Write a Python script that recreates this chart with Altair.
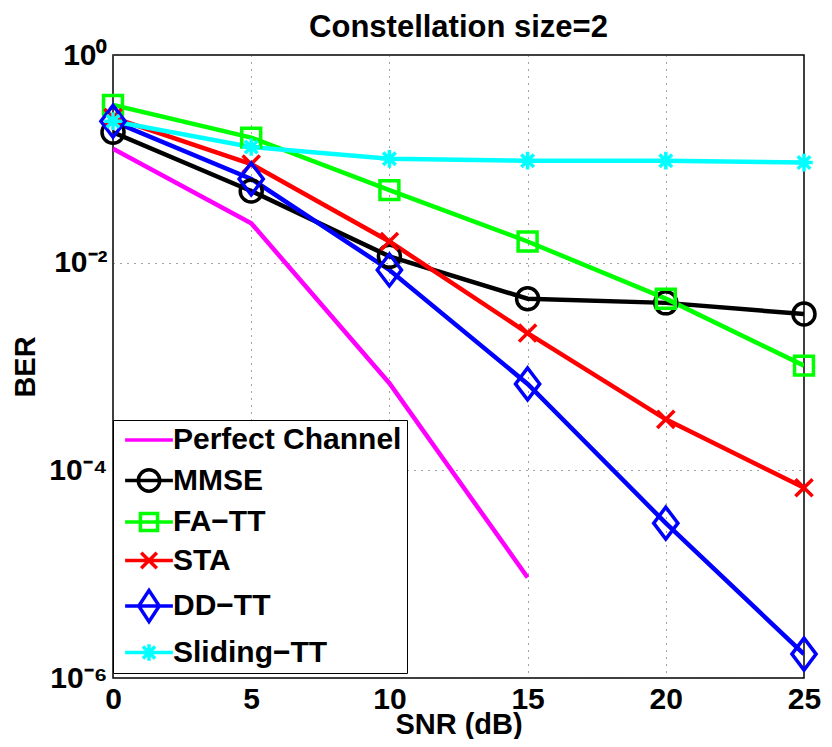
import altair as alt
import pandas as pd

snr = [0, 5, 10, 15, 20, 25]
snr_perfect = [0, 5, 10, 15]
perfect = [0.125, 0.024, 6.9e-4, 9.3e-6]
mmse = [0.18, 0.049, 0.0115, 0.0045, 0.0041, 0.0032]
fatt = [0.33, 0.16, 0.05, 0.016, 0.0045, 0.00102]
sta = [0.25, 0.089, 0.016, 0.0021, 3.1e-4, 6.8e-5]
ddtt = [0.23, 0.064, 0.0085, 6.8e-4, 3.1e-5, 1.7e-6]
sliding = [0.23, 0.13, 0.10, 0.096, 0.096, 0.092]

series = ["Perfect Channel", "MMSE", "FA\u2212TT", "STA", "DD\u2212TT", "Sliding\u2212TT"]
colors = ["#ff00ff", "#000000", "#00ff00", "#ff0000", "#0000ff", "#00ffff"]

rows = []
for x, v in zip(snr_perfect, perfect):
    rows.append({"snr": x, "ber": v, "series": series[0]})
for name, vals in zip(series[1:], [mmse, fatt, sta, ddtt, sliding]):
    for x, v in zip(snr, vals):
        rows.append({"snr": x, "ber": v, "series": name})
df = pd.DataFrame(rows)

FONT = "Liberation Sans"

# marker shapes for the plot (Perfect Channel has none)
marker_paths = [
    "M0,0",
    "circle",
    "M-0.86,-0.86L0.86,-0.86L0.86,0.86L-0.86,0.86Z",
    "M-0.78,-0.78L0.78,0.78M-0.78,0.78L0.78,-0.78",
    "M0,-1.45L1.1,0L0,1.45L-1.1,0Z",
    "M0,-0.8L0,0.8M-0.8,0L0.8,0M-0.57,-0.57L0.57,0.57M-0.57,0.57L0.57,-0.57",
]
# legend symbols: line + marker
L = "M-2.45,0L2.45,0"
legend_paths = [
    L,
    L + "M-1.1,0A1.1,1.1,0,1,0,1.1,0A1.1,1.1,0,1,0,-1.1,0",
    L + "M-0.88,-0.88L0.88,-0.88L0.88,0.88L-0.88,0.88Z",
    L + "M-0.8,-0.8L0.8,0.8M-0.8,0.8L0.8,-0.8",
    L + "M0,-1.6L1.05,0L0,1.6L-1.05,0Z",
    L + "M0,-0.85L0,0.85M-0.62,-0.62L0.62,0.62M-0.62,0.62L0.62,-0.62",
]

x_enc = alt.X("snr:Q", title="SNR (dB)",
              scale=alt.Scale(domain=[0, 25], nice=False),
              axis=alt.Axis(values=[0, 5, 10, 15, 20, 25], grid=True))
y_enc = alt.Y("ber:Q", title="BER",
              scale=alt.Scale(type="log", domain=[1e-6, 1], nice=False),
              axis=alt.Axis(values=[1, 1e-2, 1e-4, 1e-6], grid=True,
                            labelExpr="datum.value > 0.1 ? '10\u2070' : datum.value > 1e-3 ? '10\u207b\u00b2' : datum.value > 1e-5 ? '10\u207b\u2074' : '10\u207b\u2076'"))

color_plain = alt.Color("series:N", scale=alt.Scale(domain=series, range=colors), legend=None)

lines = alt.Chart(df).mark_line(strokeWidth=4.5, clip=True).encode(
    x=x_enc, y=y_enc, color=color_plain, detail="series:N"
)

points = alt.Chart(df).transform_filter(
    alt.datum.series != series[0]
).mark_point(filled=False, strokeWidth=3.5, size=484, opacity=1).encode(
    x=x_enc, y=y_enc, color=color_plain,
    shape=alt.Shape("series:N", scale=alt.Scale(domain=series, range=marker_paths), legend=None),
)

legend_layer = alt.Chart(df).transform_filter("false").mark_point(
    filled=False, strokeWidth=3.5, opacity=1
).encode(
    x=x_enc, y=y_enc,
    color=alt.Color("series:N", scale=alt.Scale(domain=series, range=colors),
                    legend=alt.Legend(title=None, orient="none", legendX=0, legendY=365)),
    shape=alt.Shape("series:N", scale=alt.Scale(domain=series, range=legend_paths),
                    legend=alt.Legend(title=None, orient="none", legendX=0, legendY=365)),
)

chart = alt.layer(lines, points, legend_layer).resolve_scale(
    color="independent", shape="independent"
).properties(
    width=816, height=731,
    autosize=alt.AutoSizeParams(type="fit", contains="padding"),
    title=alt.Title("Constellation size=2", fontSize=31, font=FONT, fontWeight="bold",
                    offset=-4, frame="group", color="black"),
    padding={"left": 3, "top": 4, "right": 0, "bottom": 0},
).configure_view(
    stroke="black", strokeWidth=1.5
).configure_axis(
    labelFont=FONT, labelFontSize=30, labelFontWeight="bold", labelColor="black",
    titleFont=FONT, titleFontSize=29, titleFontWeight="bold", titleColor="black",
    gridColor="#444444", gridDash=[1, 6], gridWidth=1, gridOpacity=1,
    domain=False, ticks=False, labelPadding=6,
).configure_axisX(
    titlePadding=-4, labelFlush=False
).configure_axisY(
    titlePadding=8, labelFlush=False
).configure_legend(
    labelFont=FONT, labelFontSize=30, labelFontWeight="bold", labelColor="black",
    symbolSize=380, symbolStrokeWidth=3.5, rowPadding=7.5, labelOffset=9,
    padding=5, strokeColor="black", fillColor="white", cornerRadius=0,
    symbolOffset=16, labelLimit=400,
)

chart.save("out.html", embed_options={"renderer": "svg", "actions": False})
